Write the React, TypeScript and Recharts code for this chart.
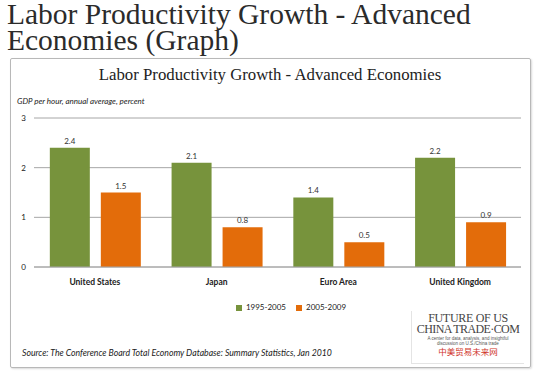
import React from 'react';
import { BarChart, Bar, XAxis, YAxis, CartesianGrid, Legend, LabelList } from 'recharts';

const economies = ['United States', 'Japan', 'Euro Area', 'United Kingdom'];
const growth1995to2005 = [2.4, 2.1, 1.4, 2.2];
const growth2005to2009 = [1.5, 0.8, 0.5, 0.9];
const yTicks = [0, 1, 2, 3];

const chartData = economies.map((name, i) => ({
  name,
  early: growth1995to2005[i],
  late: growth2005to2009[i],
}));

const GREEN = '#77933c';
const ORANGE = '#e36c0a';

export default function App() {
  return (
    <div style={{ position: 'absolute', left: 0, top: 0, width: 543, height: 373, background: '#fff', overflow: 'hidden' }}>
      <div
        style={{
          position: 'absolute',
          left: 7,
          top: 1,
          fontFamily: '"Liberation Serif", serif',
          fontSize: 29.5,
          lineHeight: '26px',
          color: '#2b2b2b',
          whiteSpace: 'nowrap',
        }}
      >
        Labor Productivity Growth - Advanced
      </div>
      <div
        style={{
          position: 'absolute',
          left: 7,
          top: 27,
          fontFamily: '"Liberation Serif", serif',
          fontSize: 29.5,
          lineHeight: '26px',
          color: '#2b2b2b',
          whiteSpace: 'nowrap',
        }}
      >
        Economies (Graph)
      </div>

      <div
        style={{
          position: 'absolute',
          left: 10,
          top: 58,
          width: 519,
          height: 308,
          border: '1px solid #b8b8b8',
          borderRadius: 2,
          boxShadow: '1px 1px 2px rgba(0,0,0,0.15)',
        }}
      />

      <div
        style={{
          position: 'absolute',
          left: 10,
          width: 520,
          top: 65,
          textAlign: 'center',
          fontFamily: '"Liberation Serif", serif',
          fontSize: 16.8,
          color: '#222',
        }}
      >
        Labor Productivity Growth - Advanced Economies
      </div>

      <div
        style={{
          position: 'absolute',
          left: 17,
          top: 96,
          fontFamily: 'Lato, sans-serif',
          fontStyle: 'italic',
          fontSize: 8,
          color: '#222',
        }}
      >
        GDP per hour, annual average, percent
      </div>

      <div style={{ position: 'absolute', left: 0, top: 0 }}>
        <BarChart
          width={543}
          height={373}
          data={chartData}
          margin={{ top: 118, right: 22, bottom: 44, left: 14 }}
          barCategoryGap="13%"
          barGap={11}
        >
          <CartesianGrid vertical={false} stroke="#a6a6a6" />
          <XAxis
            dataKey="name"
            axisLine={{ stroke: '#a6a6a6' }}
            tickLine={false}
            tickMargin={6}
            height={52}
            tick={{ fontFamily: 'Lato, sans-serif', fontSize: 8.5, fontWeight: 700, fill: '#222' }}
          />
          <YAxis
            width={20}
            domain={[0, 3]}
            ticks={yTicks}
            axisLine={false}
            tickLine={false}
            tick={{ fontFamily: 'Lato, sans-serif', fontSize: 8, fill: '#222' }}
          />
          <Legend
            iconType="square"
            iconSize={6}
            wrapperStyle={{ position: 'absolute', top: 302, left: 150, width: 292, fontFamily: 'Lato, sans-serif', fontSize: 8, color: '#222' }}
            formatter={(v) => <span style={{ color: '#222' }}>{v}</span>}
          />
          <Bar dataKey="early" name="1995-2005" fill={GREEN} isAnimationActive={false}>
            <LabelList dataKey="early" position="top" offset={4} style={{ fontFamily: 'Lato, sans-serif', fontSize: 8, fill: '#333' }} />
          </Bar>
          <Bar dataKey="late" name="2005-2009" fill={ORANGE} isAnimationActive={false}>
            <LabelList dataKey="late" position="top" offset={4} style={{ fontFamily: 'Lato, sans-serif', fontSize: 8, fill: '#333' }} />
          </Bar>
        </BarChart>
      </div>

      <div
        style={{
          position: 'absolute',
          left: 22,
          top: 347,
          fontFamily: 'Lato, sans-serif',
          fontStyle: 'italic',
          fontSize: 8.7,
          color: '#222',
          whiteSpace: 'nowrap',
        }}
      >
        Source: The Conference Board Total Economy Database: Summary Statistics, Jan 2010
      </div>

      <div
        style={{
          position: 'absolute',
          left: 411,
          top: 311,
          width: 112,
          height: 52,
          borderLeft: '1px solid #e4e4e4',
          borderBottom: '1px solid #e4e4e4',
          textAlign: 'center',
          fontFamily: '"Liberation Serif", serif',
          color: '#444',
          whiteSpace: 'nowrap',
        }}
      >
        <div style={{ fontSize: 12, lineHeight: '11px', marginTop: 2, letterSpacing: -0.3 }}>FUTURE OF US</div>
        <div style={{ fontSize: 12, lineHeight: '11px', letterSpacing: -0.6 }}>CHINA TRADE·COM</div>
        <div style={{ fontFamily: '"Liberation Sans", sans-serif', fontSize: 4.5, lineHeight: '5px', color: '#555', marginTop: 1 }}>
          A center for data, analysis, and insightful
          <br />
          discussion on U.S./China trade
        </div>
        <div style={{ fontFamily: '"Noto Sans CJK SC", sans-serif', fontSize: 8.5, lineHeight: '11px', color: '#d0352b' }}>中美贸易未来网</div>
      </div>
    </div>
  );
}
